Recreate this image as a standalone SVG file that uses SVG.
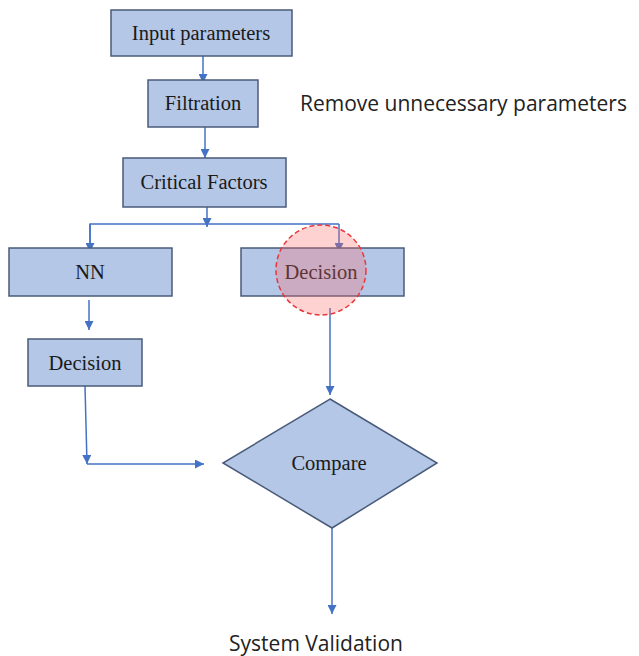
<svg xmlns="http://www.w3.org/2000/svg" width="639" height="656" viewBox="0 0 639 656">
<style>
.box{fill:#b4c7e7;stroke:#4a5b7a;stroke-width:1.5}
.lbl{font-family:"Liberation Serif",serif;font-size:20.5px;fill:#1a1a1a;text-anchor:middle}
.note{font-family:"Open Sans","DejaVu Sans",sans-serif;font-size:21px;fill:#222}
.con{stroke:#4472c4;stroke-width:1.5;fill:none}
</style>
<defs>
<marker id="ah" viewBox="0 0 10 10" refX="10" refY="5" markerWidth="10" markerHeight="9" markerUnits="userSpaceOnUse" orient="auto">
<path d="M0,0 L10,5 L0,10 z" fill="#4472c4"/>
</marker>
</defs>
<rect width="639" height="656" fill="#fff"/>
<g id="connectors">
<line class="con" x1="203" y1="56" x2="203" y2="83" marker-end="url(#ah)"/>
<line class="con" x1="205" y1="127" x2="205" y2="158" marker-end="url(#ah)"/>
<line class="con" x1="207" y1="207" x2="207" y2="227" marker-end="url(#ah)"/>
<polyline class="con" points="90,252 90,224 339,224"/>
<line class="con" x1="90" y1="224" x2="90" y2="252" marker-end="url(#ah)"/>
<line class="con" x1="339" y1="224" x2="339" y2="252" marker-end="url(#ah)"/>
<line class="con" x1="89" y1="300" x2="89" y2="330" marker-end="url(#ah)"/>
<line class="con" x1="330" y1="308" x2="330" y2="395" marker-end="url(#ah)"/>
<line class="con" x1="85" y1="386" x2="87" y2="464" marker-end="url(#ah)"/>
<line class="con" x1="87" y1="464" x2="204" y2="464" marker-end="url(#ah)"/>
<line class="con" x1="332" y1="528" x2="332" y2="614" marker-end="url(#ah)"/>
</g>
<g id="input"><rect class="box" x="111" y="10" width="181" height="46"/><text class="lbl" x="201" y="40">Input parameters</text></g>
<g id="filtration"><rect class="box" x="148" y="80" width="110" height="47"/><text class="lbl" x="203" y="110">Filtration</text></g>
<g id="note-remove"><text class="note" x="300" y="111">Remove unnecessary parameters</text></g>
<g id="critical"><rect class="box" x="123" y="158" width="163" height="49"/><text class="lbl" x="204" y="189">Critical Factors</text></g>
<g id="nn"><rect class="box" x="9" y="248" width="163" height="48"/><text class="lbl" x="90" y="279">NN</text></g>
<g id="decision-right"><rect class="box" x="241" y="248" width="163" height="48"/><text class="lbl" x="321" y="279">Decision</text></g>
<g id="highlight"><circle cx="321" cy="270" r="45" fill="#ff6b6b" fill-opacity="0.3" stroke="#e8383d" stroke-width="1.5" stroke-dasharray="5,3"/></g>
<g id="decision-left"><rect class="box" x="28" y="339" width="114" height="47"/><text class="lbl" x="85" y="370">Decision</text></g>
<g id="compare"><polygon class="box" points="330,399 437,463 332,528 223,463"/><text class="lbl" x="329" y="470">Compare</text></g>
<g id="validation"><text class="note" x="316" y="651" text-anchor="middle">System Validation</text></g>
</svg>
